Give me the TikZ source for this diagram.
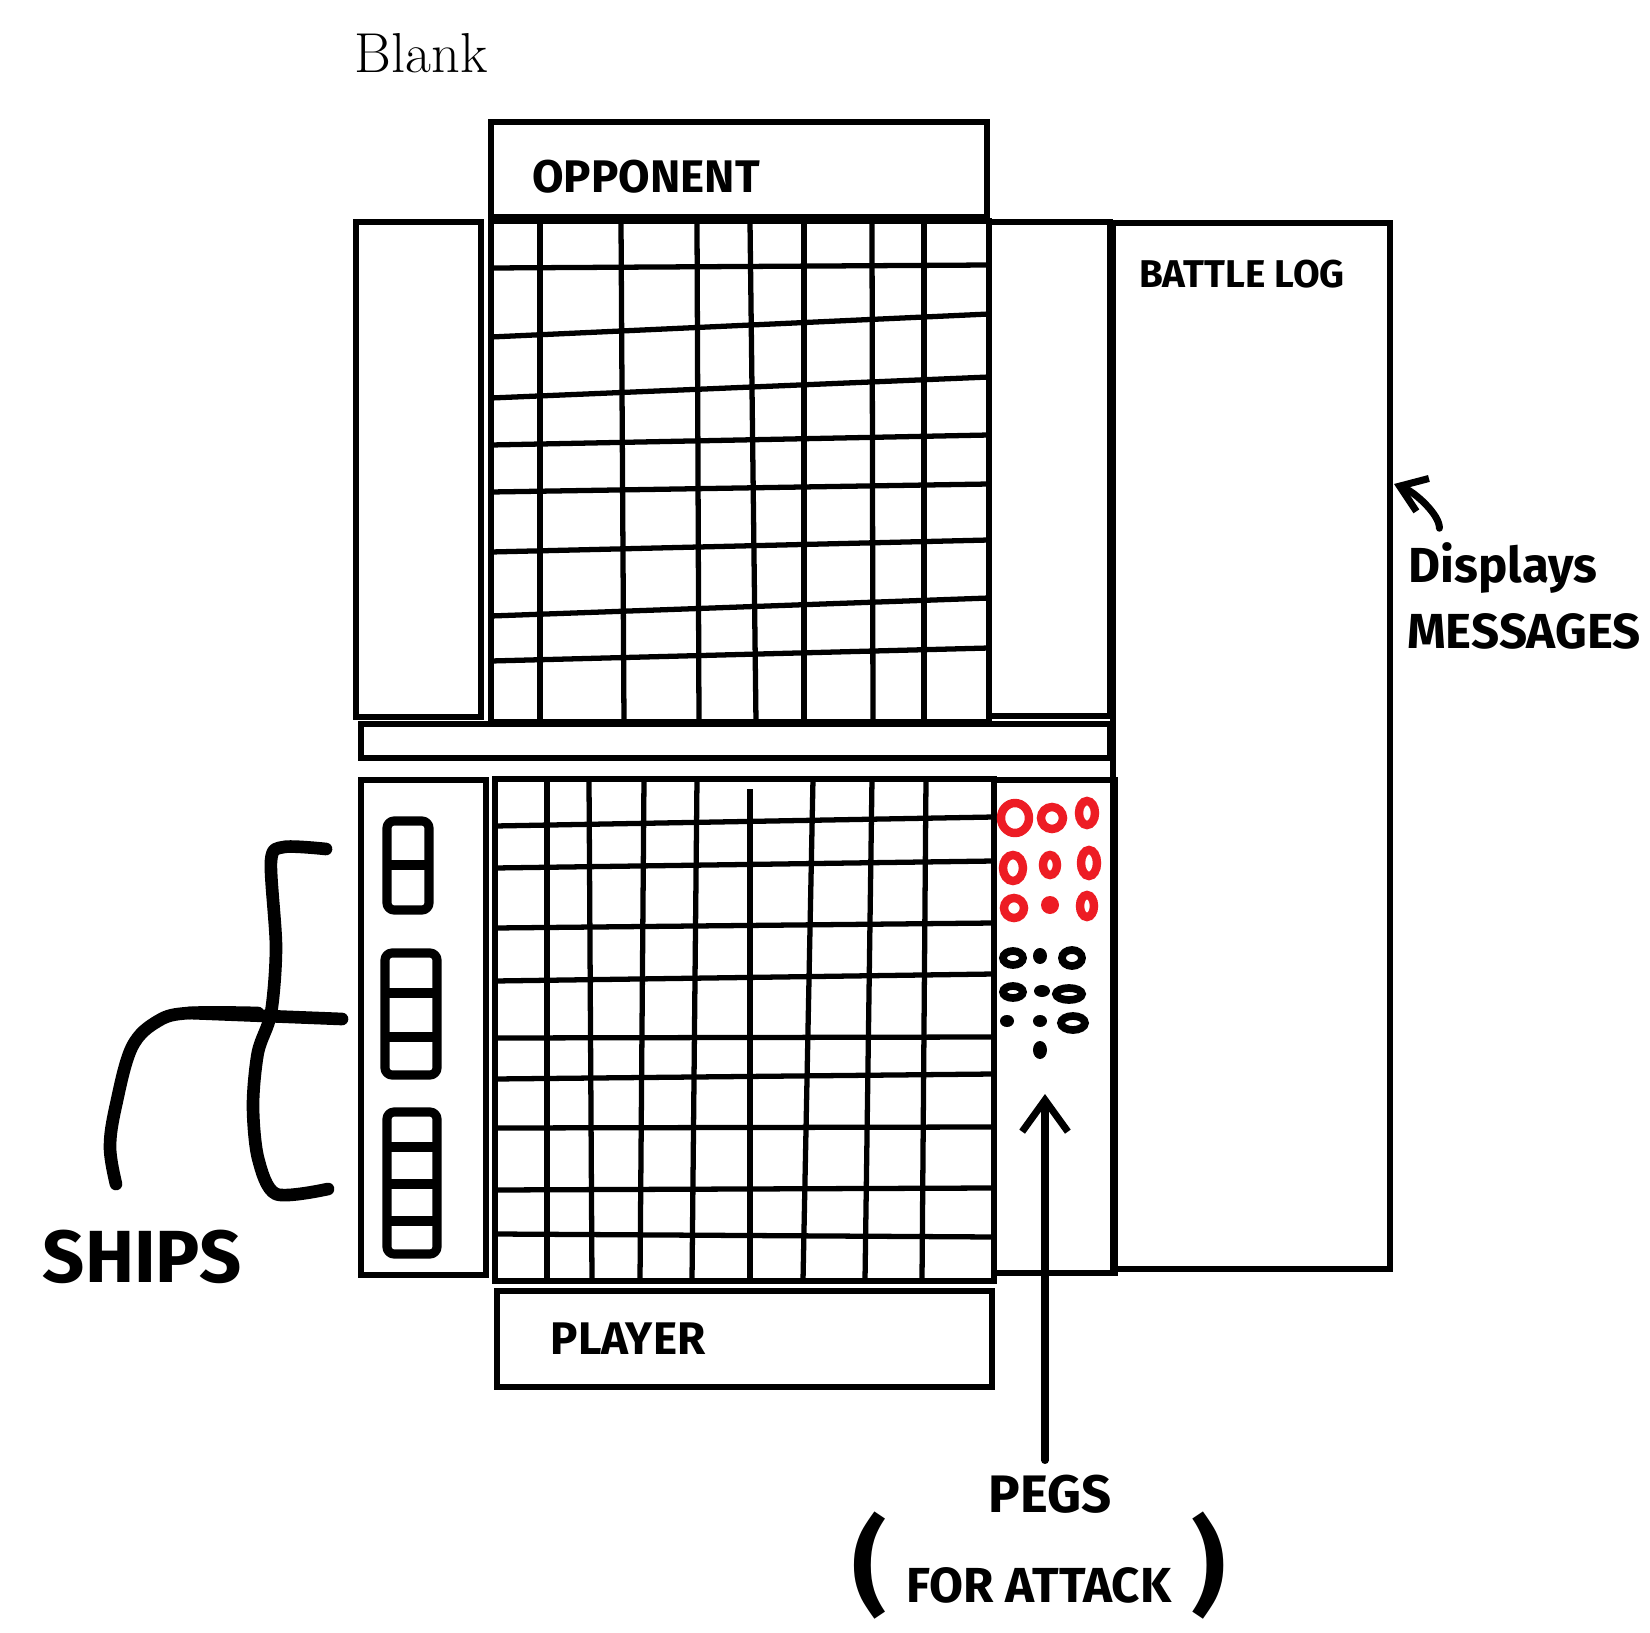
\documentclass[tikz,border=0pt]{standalone}
\usepackage{fontspec}
\usepackage{xcolor}
\newfontfamily\handfont{Fira Sans}
\usetikzlibrary{arrows.meta}
\definecolor{pegred}{RGB}{237,28,36}

\begin{document}
\begin{tikzpicture}[x=0.01cm, y=-0.01cm, line width=1.5pt,
    hand/.style={font={\handfont\bfseries\fontsize{#1}{#1}\selectfont}},
    hand/.default=13,
    shipbox/.style={line width=2.6pt, rounded corners=2pt, line join=round},
    brace/.style={line width=3.6pt, line cap=round, line join=round}]

    \useasboundingbox (0,0) rectangle (1650,1633);

    % Title
    \node[font=\fontsize{16}{18}\selectfont] (title) at (421,53) {Blank};

    % Opponent header
    \draw (491,122) rectangle (987,217);
    \node[hand=13] (opponent) at (646,177) {OPPONENT};

    % Side panels of the top board
    \draw (356,222) rectangle (481,717);
    \draw (989,222) rectangle (1110,716);

    % Opponent grid
    \draw (491,221) rectangle (989,722);
    \foreach \xa/\xb in {540/540, 621/624, 697/699, 750/756, 804/804, 872/873, 924/924}
        \draw (\xa,221) -- (\xb,722);
    \foreach \ya/\yb in {268/265, 337/314, 398/377, 445/435, 492/484, 552/540, 616/598, 661/648}
        \draw (491,\ya) -- (989,\yb);

    % Strip between the boards
    \draw (361,724) rectangle (1110,758);

    % Battle log
    \draw (1113,223) rectangle (1390,1269);
    \node[hand=11] (battlelog) at (1242,274) {BATTLE LOG};

    % Ship tray
    \draw (361,780) rectangle (486,1275);
    \draw[shipbox] (387,821) rectangle (429,910);
    \draw[shipbox] (387,865) -- (429,865);
    \draw[shipbox] (385,953) rectangle (437,1075);
    \foreach \y in {993,1037}
        \draw[shipbox] (385,\y) -- (437,\y);
    \draw[shipbox] (387,1112) rectangle (437,1254);
    \foreach \y in {1147,1184,1221}
        \draw[shipbox] (387,\y) -- (437,\y);

    % Player grid
    \draw (495,779) rectangle (994,1281);
    \foreach \xa/\xb in {547/547, 589/592, 644/640, 697/692, 813/803, 872/865, 926/922}
        \draw (\xa,779) -- (\xb,1281);
    \draw (750,789) -- (750,1281);
    \foreach \ya/\yb in {826/817, 868/861, 928/923, 981/974, 1038/1037, 1079/1074, 1128/1127, 1190/1188, 1234/1237}
        \draw (495,\ya) -- (994,\yb);

    % Peg tray
    \draw (994,780) rectangle (1115,1273);
    \foreach \x/\y/\rx/\ry in {1015/818/14/15, 1052/818/11/11, 1087/813/8/12,
                               1013/868/10/13, 1050/865/7/10, 1089/863/8/13,
                               1014/908/10/10, 1087/906/7/11}
        \draw[pegred, line width=2.4pt] (\x,\y) ellipse [x radius=\rx, y radius=\ry];
    \fill[pegred] (1050,905) circle [radius=9];
    \foreach \x/\y/\rx/\ry in {1013/958/10/7, 1072/958/10/8, 1013/992/10/6,
                               1069/994/13/6, 1073/1023/12/7}
        \draw[line width=2.2pt] (\x,\y) ellipse [x radius=\rx, y radius=\ry];
    \foreach \x/\y/\rx/\ry in {1040/956/7/8, 1042/991/8/6, 1007/1021/7/6,
                               1040/1021/7/6, 1040/1050/7/9}
        \fill (\x,\y) ellipse [x radius=\rx, y radius=\ry];

    % Player footer
    \draw (497,1291) rectangle (992,1387);
    \node[hand=13] (player) at (628,1339) {PLAYER};

    % Ships label and brace
    \node[hand=21] (ships) at (142,1257) {SHIPS};
    \coordinate (hookend) at (116,1184);
    \draw[brace] plot[smooth, tension=0.5] coordinates {(326,849) (284,847) (271,861) (276,947)
        (271,1013) (258,1052) (253,1105) (258,1158) (276,1194) (328,1189)};
    \draw[brace] (189,1013) -- (342,1019);
    \draw[brace] plot[smooth, tension=0.6] coordinates {(258,1013) (189,1013) (158,1021)
        (132,1047) (116,1105) (110,1147) (hookend)};

    % Pegs label
    \node[hand=15] (pegs) at (1050,1494) {PEGS};
    \node[hand=14] (attack) at (1039,1566)
        {{\fontsize{30}{30}\selectfont(}\, FOR ATTACK\, {\fontsize{30}{30}\selectfont)}};
    \coordinate (pegtip) at (1045,1094);
    \draw[-{Straight Barb[length=9pt, width=13pt]}, line width=2pt, line cap=round]
        (pegs.north -| pegtip) -- (pegtip);

    % Battle log note
    \node[hand=14] (displays) at (1503,568) {Displays};
    \node[hand=14] (messages) at (1524,631) {MESSAGES};
    \coordinate (logtip) at (1394,484);
    \draw[-{Straight Barb[length=7pt, width=10pt]}, line width=2pt, line cap=round]
        ([xshift=0.45cm]displays.north west) .. controls (1440,515) and (1415,492) .. (logtip);

\end{tikzpicture}
\end{document}
